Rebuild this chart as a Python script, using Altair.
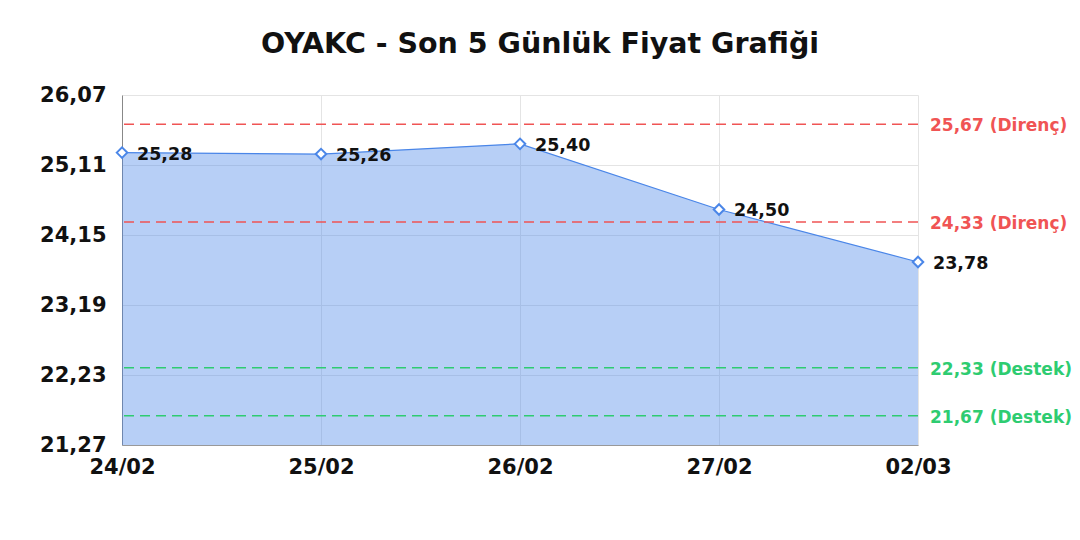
import pandas as pd
import altair as alt

# Son 5 günlük kapanış fiyatları
dates = ["24/02", "25/02", "26/02", "27/02", "02/03"]
prices = [25.28, 25.26, 25.40, 24.50, 23.78]

# Direnç / destek seviyeleri
level_values = [25.67, 24.33, 22.33, 21.67]
level_kinds = ["Direnç", "Direnç", "Destek", "Destek"]

y_ticks = [21.27, 22.23, 23.19, 24.15, 25.11, 26.07]
y_min, y_max = 21.27, 26.07

W, H = 796, 350
FONT = "DejaVu Sans"
BLUE = "#4a86e8"
RED = "#f05454"
GREEN = "#2ecc71"

df = pd.DataFrame({"tarih": dates, "fiyat": prices})
df["etiket"] = [f"{p:.2f}".replace(".", ",") for p in prices]

levels = pd.DataFrame({"seviye": level_values, "tur": level_kinds})
levels["etiket"] = [f"{v:.2f}".replace(".", ",") + f" ({k})" for v, k in zip(level_values, level_kinds)]

x_enc = alt.X(
    "tarih:N", sort=dates, title=None,
    scale=alt.Scale(type="point", padding=0),
    axis=alt.Axis(labelAngle=0, labelFontSize=21, labelFont=FONT, labelFontWeight="bold",
                  labelColor="#111", labelPadding=11, ticks=False,
                  domainColor="#999", gridColor="#e4e4e4", grid=True),
)
y_scale = alt.Scale(domain=[y_min, y_max], nice=False, zero=False)
y_enc = alt.Y(
    "fiyat:Q", title=None, scale=y_scale,
    axis=alt.Axis(values=y_ticks, labelExpr="replace(format(datum.value, '.2f'), '.', ',')",
                  labelFontSize=21, labelFont=FONT, labelFontWeight="bold", labelColor="#111",
                  labelPadding=16, ticks=False, domainColor="#888", gridColor="#e4e4e4"),
)

base = alt.Chart(df)

area = base.mark_area(color=BLUE, fillOpacity=0.4, line=False).encode(
    x=x_enc, y=y_enc, y2=alt.Y2(datum=y_min)
)
line = base.mark_line(color=BLUE, strokeWidth=1.2).encode(x=x_enc, y=y_enc)
points = base.mark_point(shape="diamond", filled=True, fill="white", stroke=BLUE,
                         strokeWidth=2, size=110, opacity=1).encode(x=x_enc, y=y_enc)
labels = base.mark_text(align="left", baseline="middle", dx=15, dy=2, font=FONT,
                        fontWeight="bold", fontSize=17.5, color="#111").encode(
    x=x_enc, y=y_enc, text="etiket:N"
)

color_scale = alt.Scale(domain=["Direnç", "Destek"], range=[RED, GREEN])
rules = alt.Chart(levels).mark_rule(strokeDash=[10, 6], strokeWidth=1.5).encode(
    y=alt.Y("seviye:Q", scale=y_scale),
    color=alt.Color("tur:N", scale=color_scale, legend=None),
)
rule_labels = alt.Chart(levels).mark_text(align="left", baseline="middle", dx=12, dy=2, font=FONT,
                                          fontWeight="bold", fontSize=17, clip=False).encode(
    x=alt.value(W),
    y=alt.Y("seviye:Q", scale=y_scale),
    text="etiket:N",
    color=alt.Color("tur:N", scale=color_scale, legend=None),
)

chart = alt.layer(area, line, rules, points, labels, rule_labels).properties(
    width=W, height=H,
    title=alt.TitleParams("OYAKC - Son 5 Günlük Fiyat Grafiği", fontSize=28.5, font=FONT,
                          fontWeight="bold", color="#111", offset=26, dx=20),
    autosize=alt.AutoSizeParams(type="none"),
    padding={"left": 114, "top": 87, "right": 154, "bottom": 80},
).configure_view(stroke=None)

chart.save("out.html", embed_options={"renderer": "svg", "actions": False})
